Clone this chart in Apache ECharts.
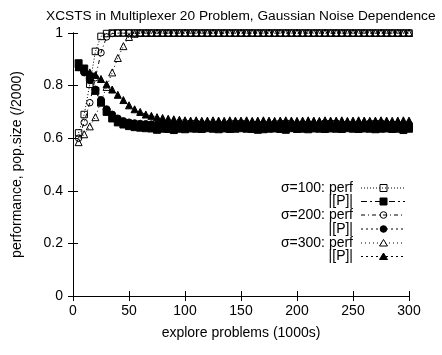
<!DOCTYPE html>
<html><head><meta charset="utf-8">
<script src="https://cdn.jsdelivr.net/npm/echarts@6/dist/echarts.min.js"></script>
<style>html,body{margin:0;padding:0;background:#fff}#c{width:442px;height:355px}</style>
</head><body><div id="c"></div>
<script>
const titleText = 'XCSTS in Multiplexer 20 Problem, Gaussian Noise Dependence';
const xName = 'explore problems (1000s)';
const yName = 'performance, pop.size (/2000)';
const xs = [5,10,15,20,25,30,35,40,45,50,55,60,65,70,75,80,85,90,95,100,
  105,110,115,120,125,130,135,140,145,150,155,160,165,170,175,180,185,190,195,200,
  205,210,215,220,225,230,235,240,245,250,255,260,265,270,275,280,285,290,295,300];
const perf100 = [0.62,0.69,0.805,0.93,0.987,0.998,1,1,1,1,
  1,1,1,1,1,1,1,1,1,1, 1,1,1,1,1,1,1,1,1,1, 1,1,1,1,1,1,1,1,1,1,
  1,1,1,1,1,1,1,1,1,1, 1,1,1,1,1,1,1,1,1,1];
const pop100 = [0.885,0.865,0.835,0.78,0.735,0.70,0.675,0.66,0.652,0.646,
  0.642,0.640,0.638,0.637,0.632,0.636,0.635,0.631,0.636,0.634,
  0.637,0.636,0.635,0.638,0.636,0.634,0.637,0.635,0.636,0.638,
  0.636,0.635,0.632,0.634,0.636,0.637,0.635,0.632,0.638,0.635,
  0.636,0.634,0.637,0.636,0.635,0.637,0.636,0.635,0.638,0.636,
  0.635,0.637,0.636,0.634,0.636,0.637,0.635,0.636,0.631,0.636];
const perf200 = [0.60,0.66,0.735,0.83,0.925,0.985,0.998,1,1,1,
  1,1,1,1,1,1,1,1,1,1, 1,1,1,1,1,1,1,1,1,1, 1,1,1,1,1,1,1,1,1,1,
  1,1,1,1,1,1,1,1,1,1, 1,1,1,1,1,1,1,1,1,1];
const pop200 = [0.87,0.85,0.82,0.785,0.745,0.71,0.69,0.675,0.665,0.66,
  0.657,0.655,0.654,0.653,0.652,0.653,0.651,0.652,0.653,0.652,
  0.651,0.652,0.653,0.651,0.652,0.653,0.652,0.651,0.652,0.653,
  0.652,0.651,0.653,0.652,0.652,0.651,0.653,0.652,0.651,0.652,
  0.653,0.652,0.651,0.652,0.653,0.652,0.651,0.652,0.653,0.652,
  0.651,0.652,0.653,0.652,0.651,0.652,0.653,0.652,0.651,0.652];
const perf300 = [0.585,0.615,0.645,0.68,0.74,0.795,0.85,0.905,0.95,0.985,
  0.997,1,1,1,1,1,1,1,1,1, 1,1,1,1,1,1,1,1,1,1, 1,1,1,1,1,1,1,1,1,1,
  1,1,1,1,1,1,1,1,1,1, 1,1,1,1,1,1,1,1,1,1];
const pop300 = [0.87,0.86,0.85,0.84,0.825,0.805,0.785,0.765,0.745,0.725,
  0.71,0.70,0.69,0.685,0.68,0.677,0.674,0.672,0.67,0.668,
  0.667,0.668,0.666,0.667,0.668,0.667,0.666,0.668,0.667,0.667,
  0.668,0.666,0.667,0.668,0.667,0.666,0.667,0.668,0.667,0.666,
  0.667,0.668,0.667,0.666,0.668,0.667,0.667,0.668,0.666,0.667,
  0.668,0.667,0.666,0.667,0.668,0.667,0.666,0.667,0.668,0.667];
const legendNames = ['σ=100: perf','|[P]|','σ=200: perf','|[P]|','σ=300: perf','|[P]|'];

const FONT = 'Liberation Sans, Arial, Helvetica, sans-serif';
const defs = [
  {data: perf100, symbol: 'rect', filled: false, dash: [1,2]},
  {data: pop100, symbol: 'rect', filled: true, dash: [6,3,2,3]},
  {data: perf200, symbol: 'circle', filled: false, dash: [4,3,1,3]},
  {data: pop200, symbol: 'circle', filled: true, dash: [2,3]},
  {data: perf300, symbol: 'triangle', filled: false, dash: [1,3]},
  {data: pop300, symbol: 'triangle', filled: true, dash: [2,3]}
];
const series = defs.map((d, i) => ({
  name: legendNames[i] + i,
  type: 'line',
  data: xs.map((x, j) => [x, d.data[j]]),
  symbol: d.symbol,
  symbolSize: d.symbol === 'triangle' ? 7 : (d.filled ? 7 : 6.5),
  showSymbol: true,
  showAllSymbol: true,
  lineStyle: {color: '#000', width: 1, type: d.dash},
  itemStyle: {color: d.filled ? '#000' : 'rgba(255,255,255,0)', borderColor: '#000', borderWidth: 1},
  emphasis: {disabled: true},
  z: 2
}));

// legend drawn as graphic
const legendRowsY = [188, 201.5, 215, 229, 243, 256.5];
const legendGraphics = [];
defs.forEach((d, i) => {
  const y = legendRowsY[i];
  legendGraphics.push({type: 'text', x: 353, y: y, style: {text: legendNames[i], fill: '#000', font: '14px ' + FONT, align: 'right', verticalAlign: 'middle'}});
  legendGraphics.push({type: 'line', shape: {x1: 361, y1: y, x2: 405, y2: y}, style: {stroke: '#000', lineWidth: 1, lineDash: d.dash}});
  const fill = d.filled ? '#000' : 'rgba(255,255,255,0)';
  const st = {fill: fill, stroke: '#000', lineWidth: 1};
  if (d.symbol === 'rect') legendGraphics.push({type: 'rect', shape: {x: 380, y: y - 3.5, width: 7, height: 7}, style: st});
  else if (d.symbol === 'circle') legendGraphics.push({type: 'circle', shape: {cx: 383.5, cy: y, r: 3.3}, style: st});
  else legendGraphics.push({type: 'polygon', shape: {points: [[383.5, y - 3.5], [387.5, y + 3], [379.5, y + 3]]}, style: st});
});

const axisCommon = {
  axisLine: {show: true, lineStyle: {color: '#000', width: 1}},
  axisTick: {show: true, inside: true, length: 5, lineStyle: {color: '#000'}},
  splitLine: {show: false}
};
const chart = echarts.init(document.getElementById('c'), null, {renderer: 'canvas'});
chart.setOption({
  animation: false,
  backgroundColor: '#fff',
  title: {text: titleText, left: 41, top: 4, textStyle: {fontFamily: FONT, fontSize: 13.7, fontWeight: 'normal', color: '#000'}},
  grid: {left: 73, right: 33, top: 33, bottom: 59},
  xAxis: [
    Object.assign({type: 'value', min: 0, max: 300, interval: 50, position: 'bottom',
      name: xName, nameLocation: 'middle', nameGap: 30,
      nameTextStyle: {fontFamily: FONT, fontSize: 14, color: '#000'},
      axisLabel: {fontFamily: FONT, fontSize: 14, color: '#000', margin: 8}}, axisCommon),
    Object.assign({type: 'value', min: 0, max: 300, interval: 50, position: 'top', axisLabel: {show: false}}, axisCommon)
  ],
  yAxis: [
    Object.assign({type: 'value', min: 0, max: 1, interval: 0.2, position: 'left',
      name: yName, nameLocation: 'middle', nameGap: 49, nameRotate: 90,
      nameTextStyle: {fontFamily: FONT, fontSize: 14, color: '#000'},
      axisLabel: {fontFamily: FONT, fontSize: 14, color: '#000', margin: 10}}, axisCommon),
    Object.assign({type: 'value', min: 0, max: 1, interval: 0.2, position: 'right', axisLabel: {show: false}}, axisCommon)
  ],
  series: series,
  graphic: legendGraphics
});
</script></body></html>
